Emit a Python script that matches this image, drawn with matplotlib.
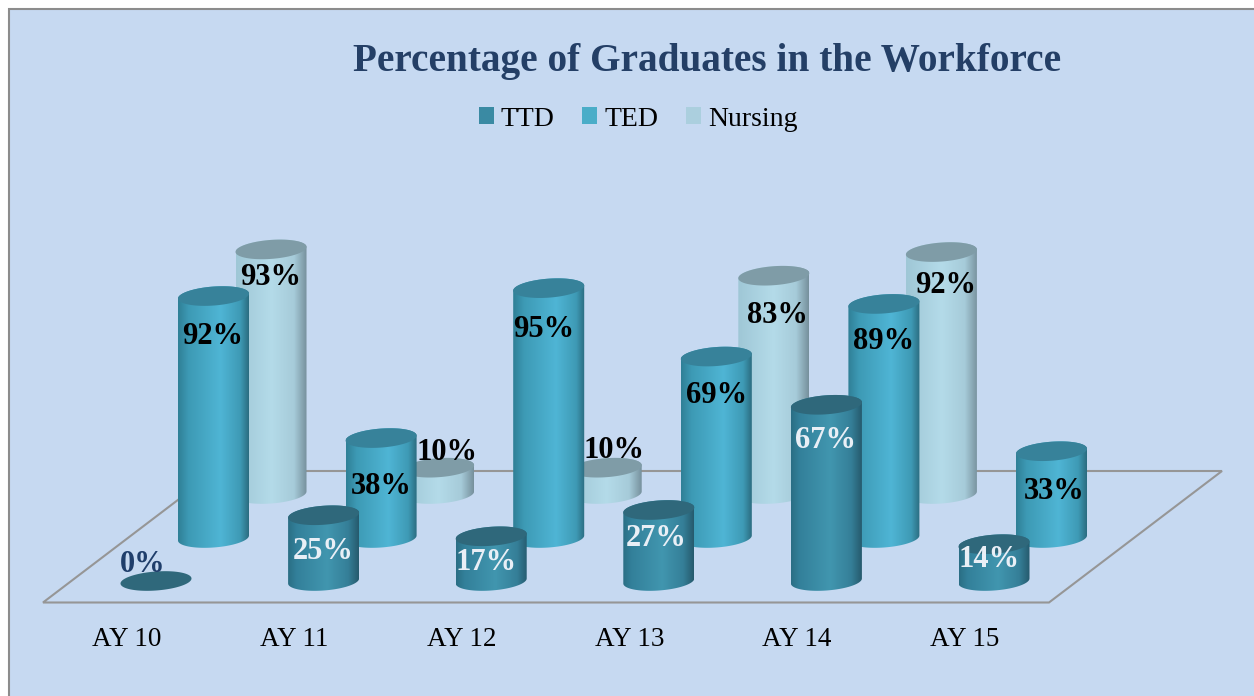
import numpy as np
import matplotlib
matplotlib.use("Agg")
import matplotlib.pyplot as plt
from matplotlib.patches import Polygon, Rectangle, Patch
from matplotlib.colors import LinearSegmentedColormap

categories = ["AY 10", "AY 11", "AY 12", "AY 13", "AY 14", "AY 15"]
ttd = [0, 25, 17, 27, 67, 14]
ted = [92, 38, 95, 69, 89, 33]
nursing = [93, 10, 10, 83, 92]

W, H = 1254, 696
PX_X = 167.6   # pixels per category
PX_Y = 2.63    # pixels per percent
X0, Y0 = 156.0, 581.0   # pixel position of category 0, value 0 (front row)

BG = "#C6D9F1"
FONT = "Liberation Serif"

# depth shift of each row, radius and tilt of the cylinders (data units)
ted_shift = (57.5 / PX_X, 43.0 / PX_Y)
nursing_shift = (115.0 / PX_X, 87.0 / PX_Y)
rx = 35.5 / PX_X
ry = 9.5 / PX_Y
tilt = 2.5 / PX_Y

fig = plt.figure(figsize=(W / 100, H / 100), dpi=100, facecolor="white")

# chart area background, its right and bottom edge run off the picture
fig.add_artist(Rectangle((9 / W, -0.02), 1.1, 1 - 9 / H + 0.02, transform=fig.transFigure,
                         facecolor=BG, edgecolor="#8C8C8C", linewidth=1.5, zorder=-1))

ax = fig.add_axes([0, 0, 1, 1])
ax.patch.set_alpha(0)
ax.axis("off")


def ellipse_pts(cx, cy, t):
    return np.column_stack([cx + rx * np.cos(t), cy + ry * np.sin(t) + tilt * np.cos(t)])


def cylinder(cx, base, value, cmap, top_color, z):
    top = base + value
    if value > 0:
        lower = ellipse_pts(cx, base, np.linspace(np.pi, 2 * np.pi, 60))
        upper = ellipse_pts(cx, top, np.linspace(0, np.pi, 60))
        body = Polygon(np.vstack([lower, upper]), closed=True, transform=ax.transData,
                       facecolor="none", edgecolor="none", zorder=z)
        ax.add_patch(body)
        grad = np.linspace(0, 1, 256).reshape(1, -1)
        im = ax.imshow(grad, cmap=cmap, aspect="auto", interpolation="bilinear", zorder=z,
                       extent=(cx - rx, cx + rx, base - 2 * ry - tilt, top + 2 * ry + tilt))
        im.set_clip_path(body)
    cap = Polygon(ellipse_pts(cx, top, np.linspace(0, 2 * np.pi, 120)), closed=True,
                  facecolor=top_color, edgecolor="none", zorder=z + 0.001)
    ax.add_patch(cap)


ttd_cmap = LinearSegmentedColormap.from_list("ttd", [(0, "#2A6E84"), (0.12, "#33809A"), (0.55, "#4196AF"),
                                                     (0.85, "#357F98"), (1, "#265A6D")])
ted_cmap = LinearSegmentedColormap.from_list("ted", [(0, "#2F7F96"), (0.15, "#3D9AB5"), (0.6, "#4FB5D5"),
                                                     (0.88, "#3E9AB5"), (1, "#2B6C80")])
nursing_cmap = LinearSegmentedColormap.from_list("nur", [(0, "#9FC7D6"), (0.5, "#B4DBE9"), (0.82, "#A6CBD9"),
                                                         (1, "#76909C")])

# floor
fx0 = (43 - X0) / PX_X
fx1 = (1049 - X0) / PX_X
fy0 = (Y0 - 602.5) / PX_Y
back_dx = 173 / PX_X
back_dy = 131.5 / PX_Y
ax.add_patch(Polygon([(fx0, fy0), (fx1, fy0), (fx1 + back_dx, fy0 + back_dy), (fx0 + back_dx, fy0 + back_dy)],
                     closed=True, facecolor="none", edgecolor="#969696", linewidth=1.5, zorder=1))

# back to front
for i, v in enumerate(nursing):
    cylinder(i + nursing_shift[0], nursing_shift[1], v, nursing_cmap, "#7F9CA7", 2 + i * 0.01)
for i, v in enumerate(ted):
    cylinder(i + ted_shift[0], ted_shift[1], v, ted_cmap, "#37829A", 3 + i * 0.01)
for i, v in enumerate(ttd):
    cylinder(i, 0, v, ttd_cmap, "#2F687B", 4 + i * 0.01)

# data labels, offset from the top of each cylinder (pixels: right, down)
nursing_off = [(0, 28), (8, -15), (8, -17), (4, 40), (4, 33)]
ted_off = [(-1, 40), (0, 48), (-5, 41), (0, 39), (0, 38), (3, 40)]
ttd_off = [(-13, -17), (0, 36), (-5, 26), (-3, 29), (-1, 36), (-5, 15)]


def put_labels(values, shift, offsets, color, z):
    for i, (v, off) in enumerate(zip(values, offsets)):
        c = color
        if v == 0:
            c = "#1F3E6B"
        ax.text(i + shift[0] + off[0] / PX_X, shift[1] + v - off[1] / PX_Y, f"{v}%", color=c,
                ha="center", va="center", family=FONT, fontweight="bold", fontsize=22, zorder=z)


put_labels(nursing, nursing_shift, nursing_off, "black", 10)
put_labels(ted, ted_shift, ted_off, "black", 10)
put_labels(ttd, (0, 0), ttd_off, "#E9EFF6", 10)

# category labels
for i, c in enumerate(categories):
    ax.text(i - 29.5 / PX_X, (Y0 - 639) / PX_Y, c, ha="center", va="center",
            family=FONT, fontsize=19.5, color="black")

ax.set_xlim(-X0 / PX_X, (W - X0) / PX_X)
ax.set_ylim((Y0 - H) / PX_Y, Y0 / PX_Y)

ax.text((707 - X0) / PX_X, (Y0 - 61) / PX_Y, "Percentage of Graduates in the Workforce", ha="center", va="center",
        family=FONT, fontweight="bold", fontsize=28.3, color="#243F66")

handles = [Patch(facecolor="#3A8AA3", label="TTD"), Patch(facecolor="#4AADC8", label="TED"),
           Patch(facecolor="#ABCFDE", label="Nursing")]
ax.legend(handles=handles, ncol=3, frameon=False, loc="center", bbox_to_anchor=(638 / W, 1 - 119 / H),
          bbox_transform=fig.transFigure, prop={"family": FONT, "size": 20},
          handlelength=0.54, handleheight=0.54, handletextpad=0.25, columnspacing=1.0)

fig.savefig("out.png", dpi=100, facecolor="white")
